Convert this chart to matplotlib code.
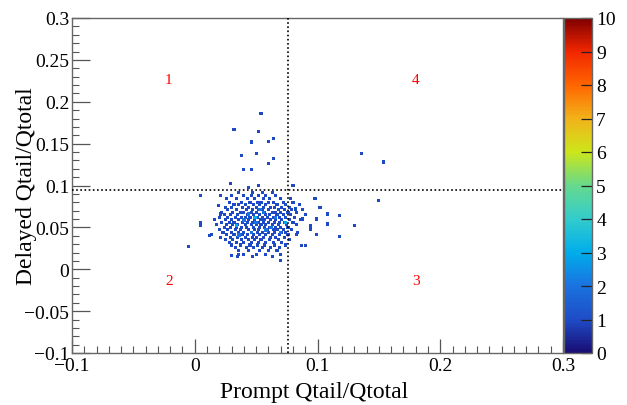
import matplotlib
matplotlib.use("Agg")
import matplotlib.pyplot as plt
from matplotlib.colors import LinearSegmentedColormap
from matplotlib.ticker import MultipleLocator, FuncFormatter

plt.rcParams['font.family'] = ['Liberation Serif', 'DejaVu Serif']

# ---- data ----
row_y = [0.092, 0.088, 0.084, 0.080, 0.077, 0.074, 0.071, 0.068, 0.065, 0.062,
         0.059, 0.056, 0.053, 0.050, 0.047, 0.044, 0.041, 0.038, 0.035, 0.032,
         0.029, 0.026, 0.022, 0.018, 0.015]
row_x = [
    [0.036, 0.047, 0.055, 0.063],
    [0.030, 0.040, 0.046, 0.052, 0.058, 0.066],
    [0.026, 0.034, 0.043, 0.049, 0.056, 0.061, 0.070, 0.078],
    [0.028, 0.038, 0.045, 0.051, 0.054, 0.060, 0.064, 0.072, 0.080],
    [0.032, 0.036, 0.041, 0.048, 0.053, 0.058, 0.067, 0.074, 0.085],
    [0.025, 0.030, 0.039, 0.044, 0.050, 0.056, 0.062, 0.065, 0.071, 0.077],
    [0.027, 0.034, 0.042, 0.047, 0.052, 0.055, 0.060, 0.068, 0.073, 0.079, 0.088],
    [0.022, 0.031, 0.037, 0.040, 0.046, 0.050, 0.057, 0.063, 0.066, 0.070, 0.076, 0.083],
    [0.024, 0.029, 0.035, 0.043, 0.048, 0.053, 0.058, 0.061, 0.067, 0.072, 0.078, 0.090],
    [0.020, 0.027, 0.033, 0.038, 0.041, 0.045, 0.051, 0.055, 0.059, 0.064, 0.069, 0.074, 0.081],
    [0.016, 0.025, 0.030, 0.036, 0.040, 0.044, 0.049, 0.054, 0.057, 0.062, 0.066, 0.071, 0.077, 0.086],
    [0.022, 0.028, 0.032, 0.039, 0.043, 0.047, 0.052, 0.056, 0.060, 0.065, 0.069, 0.073, 0.080],
    [0.018, 0.026, 0.031, 0.035, 0.041, 0.046, 0.050, 0.054, 0.058, 0.063, 0.068, 0.075, 0.083],
    [0.024, 0.029, 0.034, 0.038, 0.042, 0.048, 0.053, 0.057, 0.061, 0.066, 0.070, 0.076],
    [0.020, 0.027, 0.033, 0.037, 0.044, 0.049, 0.052, 0.059, 0.064, 0.067, 0.072, 0.079],
    [0.023, 0.030, 0.036, 0.040, 0.046, 0.051, 0.055, 0.060, 0.065, 0.071, 0.074, 0.084],
    [0.026, 0.032, 0.039, 0.043, 0.048, 0.053, 0.058, 0.063, 0.069, 0.076],
    [0.021, 0.029, 0.035, 0.041, 0.047, 0.050, 0.056, 0.062, 0.066, 0.073],
    [0.025, 0.031, 0.038, 0.044, 0.049, 0.054, 0.061, 0.068, 0.077],
    [0.028, 0.034, 0.040, 0.046, 0.052, 0.058, 0.064, 0.071],
    [0.030, 0.037, 0.045, 0.051, 0.057, 0.065, 0.074],
    [0.033, 0.042, 0.048, 0.055, 0.062, 0.069],
    [0.036, 0.044, 0.053, 0.060, 0.067],
    [0.040, 0.050, 0.058, 0.070],
    [0.035, 0.047, 0.063],
]

# scattered (outlying) entries
out_x = [0.054, 0.032, 0.052, 0.046, 0.060, 0.064, 0.038, 0.050, 0.064, 0.060,
         0.040, 0.046, 0.136, 0.154, 0.150, 0.029, 0.044, 0.052, 0.080, 0.005,
         0.021, 0.098, 0.102, 0.108, 0.118, 0.130, 0.118, 0.108, 0.099, -0.005,
         0.005, 0.005, 0.014, 0.012, 0.019, 0.021, 0.030, 0.036, 0.070, 0.088,
         0.094, 0.094, 0.099, 0.083, 0.082, 0.087, 0.090]
out_y = [0.186, 0.167, 0.165, 0.152, 0.153, 0.156, 0.136, 0.138, 0.132, 0.126,
         0.119, 0.119, 0.138, 0.128, 0.082, 0.102, 0.098, 0.100, 0.100, 0.088,
         0.088, 0.084, 0.074, 0.066, 0.064, 0.052, 0.039, 0.054, 0.042, 0.027,
         0.056, 0.052, 0.042, 0.040, 0.076, 0.066, 0.016, 0.018, 0.010, 0.060,
         0.052, 0.048, 0.060, 0.042, 0.072, 0.028, 0.028]

# bins holding more than one entry
multi_x = [0.034, 0.049, 0.074, 0.044, 0.058, 0.040, 0.053, 0.066, 0.046, 0.062, 0.036, 0.056, 0.070, 0.050]
multi_y = [0.052, 0.062, 0.056, 0.066, 0.047, 0.059, 0.071, 0.062, 0.044, 0.050, 0.041, 0.068, 0.044, 0.056]
multi_n = [3, 3, 3, 2, 2, 2, 2, 2, 2, 2, 2, 2, 2, 2]

x_cut = 0.076
y_cut = 0.095

region_labels = ['1', '4', '2', '3']
region_x = [-0.021, 0.180, -0.021, 0.180]
region_y = [0.227, 0.227, -0.014, -0.014]

# ---- figure ----
W, H = 627, 406
fig = plt.figure(figsize=(W / 100, H / 100), dpi=100)
ax = fig.add_axes([72 / W, 1 - 354 / H, (563 - 72) / W, (354 - 19) / H])
cax = fig.add_axes([564 / W, 1 - 354 / H, (592 - 564) / W, (354 - 19) / H])

cmap = LinearSegmentedColormap.from_list('rootrainbow', [
    (0.00, (0.10, 0.05, 0.45)),
    (0.10, (0.12, 0.30, 0.78)),
    (0.20, (0.10, 0.45, 0.88)),
    (0.30, (0.00, 0.68, 0.92)),
    (0.40, (0.20, 0.80, 0.80)),
    (0.50, (0.40, 0.85, 0.55)),
    (0.60, (0.80, 0.90, 0.10)),
    (0.70, (0.95, 0.70, 0.10)),
    (0.80, (1.00, 0.40, 0.00)),
    (0.90, (0.95, 0.15, 0.00)),
    (1.00, (0.50, 0.00, 0.00)),
])

core_x = [x for xs in row_x for x in xs]
core_y = [y for y, xs in zip(row_y, row_x) for _ in xs]
all_x = core_x + out_x
all_y = core_y + out_y
all_c = [1] * len(all_x)

sc = ax.scatter(all_x, all_y, c=all_c, cmap=cmap, vmin=0, vmax=10,
                marker='s', s=5, linewidths=0, zorder=3)
ax.scatter(multi_x, multi_y, c=multi_n, cmap=cmap, vmin=0, vmax=10,
           marker='s', s=6, linewidths=0, zorder=4)

ax.axvline(x_cut, color='black', linestyle=(0, (1, 1.5)), lw=1.2, zorder=5)
ax.axhline(y_cut, color='black', linestyle=(0, (1, 1.5)), lw=1.2, zorder=5)

for t, xx, yy in zip(region_labels, region_x, region_y):
    ax.text(xx, yy, t, color='red', fontsize=11, ha='center', va='center')

fmt = FuncFormatter(lambda v, p: ('%g' % round(v, 3)).replace('-', '\u2212'))
ax.set_xlim(-0.1, 0.3)
ax.set_ylim(-0.1, 0.3)
ax.xaxis.set_major_locator(MultipleLocator(0.1))
ax.xaxis.set_minor_locator(MultipleLocator(0.01))
ax.yaxis.set_major_locator(MultipleLocator(0.05))
ax.yaxis.set_minor_locator(MultipleLocator(0.01))
ax.xaxis.set_major_formatter(fmt)
ax.yaxis.set_major_formatter(fmt)
ax.tick_params(axis='both', which='major', direction='in', labelsize=14,
               color='#555555', width=0.9, top=False, right=False)
ax.tick_params(axis='x', which='major', length=10, pad=3)
ax.tick_params(axis='y', which='major', length=13, pad=2)
ax.tick_params(axis='both', which='minor', direction='in', length=5,
               color='#555555', width=0.8, top=False, right=False)
for s in ax.spines.values():
    s.set_color('#666666')
    s.set_linewidth(1.0)

ax.set_xlabel('Prompt Qtail/Qtotal', fontsize=17, ha='left')
ax.xaxis.set_label_coords(148 / (563 - 72), -0.085)
ax.set_ylabel('Delayed Qtail/Qtotal', fontsize=17)
ax.yaxis.set_label_coords(-0.072, 0.5)

cb = fig.colorbar(sc, cax=cax, ticks=range(0, 11))
cb.outline.set_edgecolor('#666666')
cb.outline.set_linewidth(1.0)
cax.tick_params(direction='in', length=8, width=0.9, color='#222222',
                labelsize=14, pad=3, right=True, left=False)

fig.savefig('out.png', dpi=100)
